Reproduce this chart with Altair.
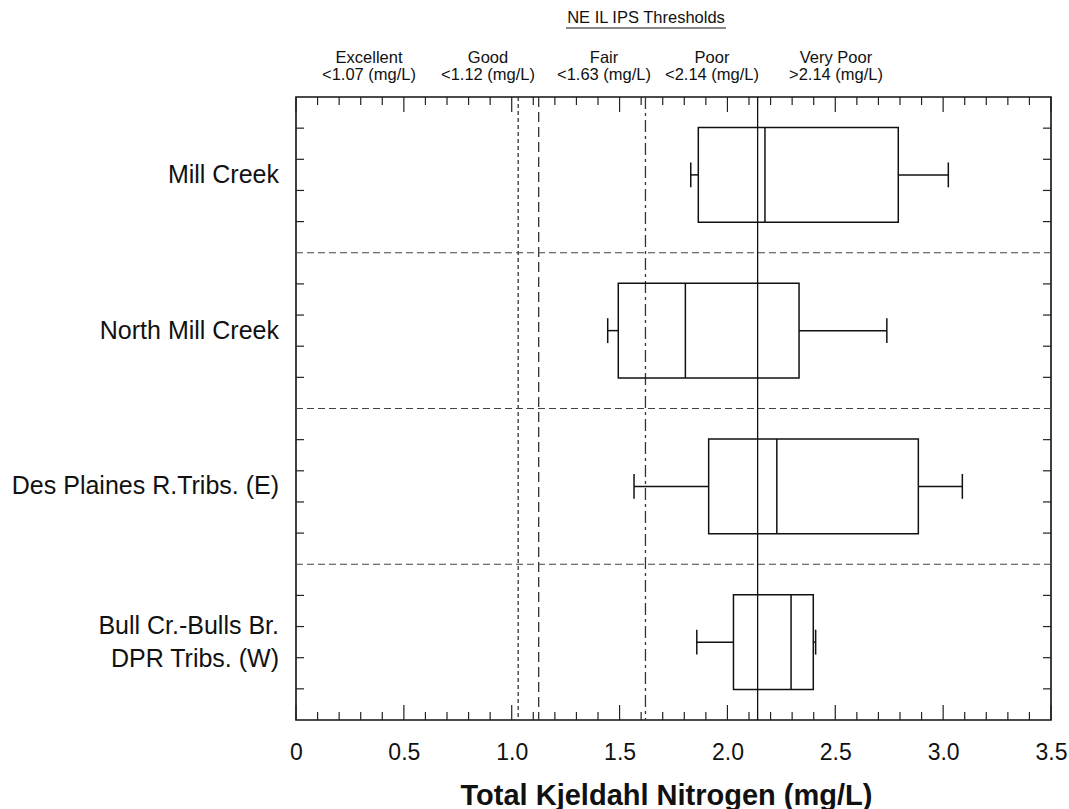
import altair as alt
import pandas as pd

# ---------------- data ----------------
sites = ["Mill Creek", "North Mill Creek", "Des Plaines R.Tribs. (E)", "Bull Cr.-Bulls Br.\nDPR Tribs. (W)"]
whisker_low = [1.83, 1.445, 1.567, 1.858]
q1 = [1.865, 1.494, 1.913, 2.028]
median = [2.174, 1.805, 2.229, 2.295]
q3 = [2.792, 2.332, 2.885, 2.398]
whisker_high = [3.024, 2.739, 3.089, 2.409]

threshold_values = [1.03, 1.125, 1.62, 2.14]
header_names = ["Excellent", "Good", "Fair", "Poor", "Very Poor"]
header_limits = ["<1.07 (mg/L)", "<1.12 (mg/L)", "<1.63 (mg/L)", "<2.14 (mg/L)", ">2.14 (mg/L)"]
x_tick_labels = [0, 0.5, 1.0, 1.5, 2.0, 2.5, 3.0, 3.5]

# ---------------- layout ----------------
W, H = 755, 623
FONT = "Liberation Sans"
BAND = 5.0
HALF = 1.52
CAP = 0.4

rows = []
for i, s in enumerate(sites):
    c = BAND * i + BAND / 2
    rows.append(dict(site=s, lo=whisker_low[i], q1=q1[i], med=median[i], q3=q3[i],
                     hi=whisker_high[i], yc=c, yt=c - HALF, yb=c + HALF,
                     ct=c - CAP, cb=c + CAP))
df = pd.DataFrame(rows)

xs = alt.Scale(domain=[0, 3.5], nice=False, zero=False)
ys = alt.Scale(domain=[0, 20], reverse=True, nice=False)

base = alt.Chart(df)

boxes = base.mark_rect(fill="white", fillOpacity=0, stroke="#111", strokeWidth=1.5).encode(
    x=alt.X("q1:Q", scale=xs, axis=alt.Axis(
        values=x_tick_labels, ticks=False, domain=False, grid=False,
        labelExpr="datum.value == 0 ? '0' : format(datum.value, '.1f')",
        labelFontSize=23, labelFont=FONT, labelColor="#111", labelPadding=21,
        labelFlush=False,
        title="Total Kjeldahl Nitrogen (mg/L)", titleFont=FONT, titleFontSize=29,
        titleFontWeight="bold", titleColor="#111", titlePadding=17, titleX=370)),
    x2="q3:Q",
    y=alt.Y("yt:Q", scale=ys, axis=None),
    y2="yb:Q",
)
medians = base.mark_rule(color="#111", strokeWidth=1.5).encode(
    x=alt.X("med:Q", scale=xs), y=alt.Y("yt:Q", scale=ys, axis=None), y2="yb:Q")
wl = base.mark_rule(color="#111", strokeWidth=1.5).encode(
    x=alt.X("lo:Q", scale=xs), x2="q1:Q", y=alt.Y("yc:Q", scale=ys, axis=None))
wh = base.mark_rule(color="#111", strokeWidth=1.5).encode(
    x=alt.X("q3:Q", scale=xs), x2="hi:Q", y=alt.Y("yc:Q", scale=ys, axis=None))
capl = base.mark_rule(color="#111", strokeWidth=1.5).encode(
    x=alt.X("lo:Q", scale=xs), y=alt.Y("ct:Q", scale=ys, axis=None), y2="cb:Q")
caph = base.mark_rule(color="#111", strokeWidth=1.5).encode(
    x=alt.X("hi:Q", scale=xs), y=alt.Y("ct:Q", scale=ys, axis=None), y2="cb:Q")

labels1 = base.transform_filter("indexof(datum.site, '\\n') < 0").mark_text(
    align="right", baseline="middle", font=FONT, fontSize=25, color="#111").encode(
    x=alt.value(-17), y=alt.Y("yc:Q", scale=ys, axis=None), text="site:N")
labels2 = base.transform_filter("indexof(datum.site, '\\n') >= 0").mark_text(
    align="right", baseline="middle", font=FONT, fontSize=25, color="#111",
    lineBreak="\n", lineHeight=33, dy=-16).encode(
    x=alt.value(-17), y=alt.Y("yc:Q", scale=ys, axis=None), text="site:N")

sep_df = pd.DataFrame({"y": [BAND * k for k in range(1, len(sites))]})
seps = alt.Chart(sep_df).mark_rule(color="#444", strokeWidth=1.2, strokeDash=[7, 4]).encode(
    y=alt.Y("y:Q", scale=ys, axis=None), x=alt.value(0), x2=alt.value(W))

dashes = [[4, 3], [10, 5], [12, 4, 3, 4], None]
thr_layers = []
for v, d in zip(threshold_values, dashes):
    tdf = pd.DataFrame({"x": [v]})
    kw = dict(color="#333", strokeWidth=1.3)
    if d is not None:
        kw["strokeDash"] = d
    else:
        kw["color"] = "#111"
    thr_layers.append(alt.Chart(tdf).mark_rule(**kw).encode(
        x=alt.X("x:Q", scale=xs), y=alt.value(0), y2=alt.value(H)))

tick_vals = [round(i * 0.1, 1) for i in range(36)]
major_vals = [v for v in tick_vals if abs(v * 2 - round(v * 2)) < 1e-9]
minor_vals = [v for v in tick_vals if v not in major_vals]
tick_layers = []
for vals, ln in [(major_vals, 15), (minor_vals, 8)]:
    src = alt.Chart(pd.DataFrame({"x": vals}))
    tick_layers.append(src.mark_rule(color="#222", strokeWidth=1.2).encode(
        x=alt.X("x:Q", scale=xs), y=alt.value(H), y2=alt.value(H - ln)))
    tick_layers.append(src.mark_rule(color="#222", strokeWidth=1.2).encode(
        x=alt.X("x:Q", scale=xs), y=alt.value(0), y2=alt.value(ln)))

yt = pd.DataFrame({"y": [k for k in range(1, 20) if k % 5 != 0]})
ytl = alt.Chart(yt).mark_rule(color="#222", strokeWidth=1.2).encode(
    y=alt.Y("y:Q", scale=ys, axis=None), x=alt.value(0), x2=alt.value(8))
ytr = alt.Chart(yt).mark_rule(color="#222", strokeWidth=1.2).encode(
    y=alt.Y("y:Q", scale=ys, axis=None), x=alt.value(W - 8), x2=alt.value(W))

hdr = []
hx = [73, 192, 308, 416, 540]
for name, lim, px in zip(header_names, header_limits, hx):
    hdr.append(alt.Chart(pd.DataFrame({"t": [name]})).mark_text(
        font=FONT, fontSize=16.5, color="#111", baseline="middle").encode(
        x=alt.value(px), y=alt.value(-39), text="t:N"))
    hdr.append(alt.Chart(pd.DataFrame({"t": [lim]})).mark_text(
        font=FONT, fontSize=16.5, color="#111", baseline="middle").encode(
        x=alt.value(px), y=alt.value(-22), text="t:N"))
TX = 350
title_txt = alt.Chart(pd.DataFrame({"t": ["NE IL IPS Thresholds"]})).mark_text(
    font=FONT, fontSize=16.5, color="#111", baseline="middle").encode(
    x=alt.value(TX), y=alt.value(-79), text="t:N")
underline = alt.Chart(pd.DataFrame({"a": ["u"]})).mark_rule(color="#111", strokeWidth=1).encode(
    x=alt.value(TX - 80), x2=alt.value(TX + 80), y=alt.value(-69), detail="a:N")

chart = alt.layer(
    *thr_layers, seps, *tick_layers, ytl, ytr,
    boxes, medians, wl, wh, capl, caph, labels1, labels2, *hdr, title_txt, underline
).properties(
    width=W, height=H,
    autosize=alt.AutoSizeParams(type="none"),
    padding={"left": 296, "top": 97, "right": 18, "bottom": 89},
    background="white",
).configure_view(stroke="#111", strokeWidth=1.6)

chart.save("out.html", embed_options={"renderer": "svg", "actions": False})
